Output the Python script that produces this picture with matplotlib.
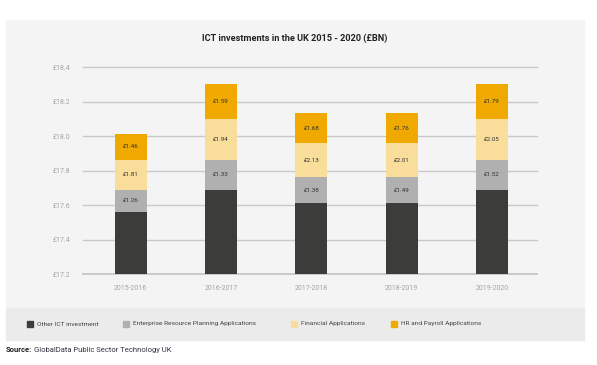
import matplotlib.pyplot as plt
from matplotlib.patches import Rectangle

# data (segment heights in axis units) and printed labels
years = ["2015-2016", "2016-2017", "2017-2018", "2018-2019", "2019-2020"]
other_ict = [17.56, 17.69, 17.61, 17.61, 17.69]
erp_h = [0.128, 0.174, 0.151, 0.151, 0.174]
fin_h = [0.174, 0.238, 0.197, 0.197, 0.238]
hr_h = [0.151, 0.203, 0.175, 0.175, 0.203]
erp_lbl = ["£1.26", "£1.33", "£1.38", "£1.49", "£1.52"]
fin_lbl = ["£1.81", "£1.94", "£2.13", "£2.01", "£2.05"]
hr_lbl = ["£1.46", "£1.59", "£1.68", "£1.76", "£1.79"]
yticks = [17.2, 17.4, 17.6, 17.8, 18.0, 18.2, 18.4]
names = ["Other ICT investment", "Enterprise Resource Planning Applications",
         "Financial Applications", "HR and Payroll Applications"]
colors = ["#3c3c3a", "#b0b0b0", "#f9dd9a", "#f0a900"]

plt.rcParams['font.family'] = ['Roboto', 'DejaVu Sans']

fig = plt.figure(figsize=(5.97, 3.65), dpi=100)
fig.patch.set_facecolor("white")

# grey panel + legend band
fig.patches.append(Rectangle((6/597, 1-308/365), 578/597, 288/365,
                             transform=fig.transFigure, color="#f4f4f4", zorder=-2))
fig.patches.append(Rectangle((6/597, 1-340/365), 578/597, 32/365,
                             transform=fig.transFigure, color="#ebebeb", zorder=-2))

ax = fig.add_axes([83/597, 1-274/365, 454/597, 206.7/365])
ax.set_zorder(2)
ax.set_facecolor("none")
for s in ax.spines.values():
    s.set_visible(False)

x = list(range(len(years)))
w = 0.355
b1 = other_ict
b2 = [a+b for a, b in zip(b1, erp_h)]
b3 = [a+b for a, b in zip(b2, fin_h)]
ax.bar(x, other_ict, w, color=colors[0], zorder=3)
ax.bar(x, erp_h, w, bottom=b1, color=colors[1], zorder=3)
ax.bar(x, fin_h, w, bottom=b2, color=colors[2], zorder=3)
ax.bar(x, hr_h, w, bottom=b3, color=colors[3], zorder=3)

for i in x:
    ax.text(i, b1[i]+erp_h[i]/2, erp_lbl[i], ha="center", va="center", fontsize=4.5, color="#333333", zorder=4)
    ax.text(i, b2[i]+fin_h[i]/2, fin_lbl[i], ha="center", va="center", fontsize=4.5, color="#333333", zorder=4)
    ax.text(i, b3[i]+hr_h[i]/2, hr_lbl[i], ha="center", va="center", fontsize=4.5, color="#333333", zorder=4)

for t in yticks:
    ax.axhline(t, color="#c9c9c9", lw=1.0 if t > 17.2 else 1.4, zorder=1, clip_on=False)

ax.set_ylim(17.2, 18.4)
ax.set_xlim(-0.53, 4.5)
ax.set_yticks(yticks)
ax.set_yticklabels(["£%.1f" % t for t in yticks])
ax.set_xticks(x)
ax.set_xticklabels(years)
ax.tick_params(axis="both", length=0, labelsize=5, labelcolor="#a5a5a5")
ax.tick_params(axis="y", pad=9)
ax.tick_params(axis="x", pad=8)

fig.text(295/597, 1-38/365, "ICT investments in the UK 2015 - 2020 (£BN)",
         ha="center", va="center", fontsize=6.6, fontweight="bold", color="#222222")

# legend row
leg_x = [27, 123, 291, 391]
for lx, name, c in zip(leg_x, names, colors):
    fig.patches.append(Rectangle((lx/597, 1-327/365), 6/597, 6/365,
                                 transform=fig.transFigure, color=c, zorder=2))
    fig.text((lx+10)/597, 1-324/365, name, ha="left", va="center",
             fontsize=4.65, color="#444444")

t1 = fig.text(6/597, 1-350/365, "Source:", ha="left", va="center",
              fontsize=5.5, fontweight="bold", color="#222222")
fig.canvas.draw()
bb = t1.get_window_extent()
fig.text((bb.x1+1.5)/597, 1-350/365, "GlobalData Public Sector Technology UK",
         ha="left", va="center", fontsize=5.5, color="#333344")

fig.savefig("out.png", dpi=100)
